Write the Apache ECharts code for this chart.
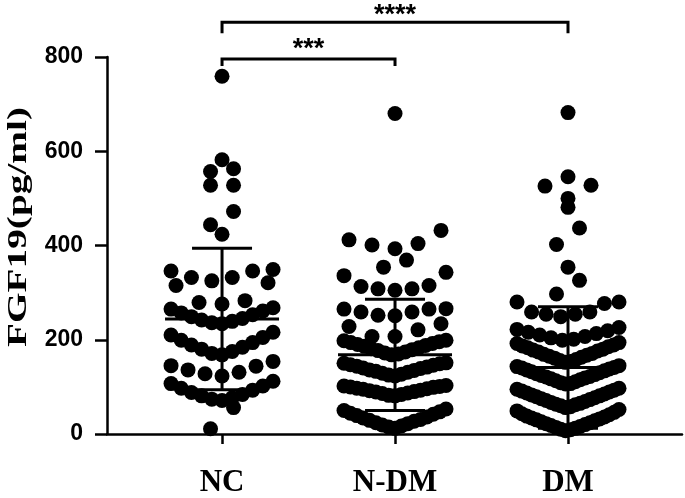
<!DOCTYPE html>
<html>
<head>
<meta charset="utf-8">
<script src="https://cdn.jsdelivr.net/npm/echarts@6/dist/echarts.min.js"></script>
<style>
html,body{margin:0;padding:0;background:#fff;}
#chart{width:685px;height:498px;}
</style>
</head>
<body>
<div id="chart"></div>
<script>
// ---- data ----
const categories = ['NC', 'N-DM', 'DM'];
const yTicks = [0, 200, 400, 600, 800];

const ncValues = [
  11, 56,
  71, 74, 77, 81, 84, 88, 93, 97, 102, 107, 112,
  123, 128, 131, 136, 144, 145, 154,
  168, 171, 175, 180, 184, 189, 194, 199, 205, 210, 216,
  234, 236, 239, 242, 245, 249, 253, 257, 261, 265, 268,
  276, 279, 283, 315, 321,
  325, 332, 332, 346, 346, 349,
  424, 444, 472, 528, 528, 557, 563, 582, 759
];

const ndmValues = [
  12, 15, 17, 19, 22, 24, 27, 29, 31, 34, 36, 39, 42, 44, 47, 50, 53,
  81, 82, 84, 86, 87, 89, 90, 92, 93, 95, 96, 97, 99, 100, 101, 102, 103,
  123, 125, 127, 129, 131, 133, 135, 136, 139, 140, 142, 144, 146, 147, 149, 150, 151,
  168, 170, 172, 174, 177, 179, 181, 183, 186, 188, 190, 192, 194, 196, 198, 199,
  207, 207, 221, 228, 234,
  251, 252, 259, 259, 265, 265, 266,
  305, 308, 308, 313, 315, 336, 343,
  354, 369,
  393, 401, 404, 412, 432,
  680
];

const dmValues = [
  7, 9, 10, 12, 14, 16, 18, 20, 22, 24, 26, 28, 30, 32, 34, 36, 38, 41, 43, 46, 49, 52,
  56, 58, 60, 62, 63, 65, 67, 69, 71, 73, 75, 77, 79, 81, 83, 85, 87, 89, 91, 93, 95, 97,
  106, 107, 109, 111, 113, 115, 117, 119, 121, 122, 124, 126, 128, 130, 132, 134, 136, 138, 140, 141, 143, 145,
  152, 154, 156, 158, 161, 163, 165, 167, 169, 171, 174, 176, 178, 180, 183, 185, 187, 189, 192, 194,
  199, 201, 204, 207, 210, 213, 216, 219, 222, 226,
  249, 254, 254, 259, 259, 277, 280, 280,
  297, 326,
  354,
  402, 437,
  481,
  500, 526, 528,
  546,
  682
];

// mean and SD bars as drawn
const groupMeans = [244, 168, 141];
const groupSDs = [150, 118, 129];

const comparisons = [
  { from: 0, to: 1, label: '***' },
  { from: 0, to: 2, label: '****' }
];

// ---- layout ----
const gridLeft = 107, gridRight = 3, gridTop = 57, gridHeight = 381.5;
const xMin = 0.335, xMax = 3.659;
const pxPerUnit = (685 - gridLeft - gridRight) / (xMax - xMin);
const binOrigins = [10, 8, 6];
const binWidths = [52, 48, 48];
const maxStepPx = 23, maxHalfPx = 51;
const bracketLevels = [796, 874];
const bracketDrops = [7, 11];
const starGaps = [9, 7];

// GraphPad-style scatter: bin the values, spread each bin centre-out, lowest in the middle
function swarm(values, cx, origin, width) {
  const bins = {};
  values.forEach(v => {
    const k = Math.floor((v - origin) / width);
    (bins[k] = bins[k] || []).push(v);
  });
  const pts = [];
  Object.keys(bins).forEach(k => {
    const row = bins[k].slice().sort((a, b) => a - b);
    const n = row.length;
    const half = (n - 1) / 2;
    const step = half > 0 ? Math.min(maxStepPx, maxHalfPx / half) : 0;
    const slots = [];
    for (let i = 0; i < n; i++) slots.push(i - half);
    slots.sort((a, b) => Math.abs(a) - Math.abs(b) || a - b);
    row.forEach((v, i) => pts.push([cx + slots[i] * step / pxPerUnit, v]));
  });
  return pts;
}

const groups = [ncValues, ndmValues, dmValues];

const chart = echarts.init(document.getElementById('chart'), null, { renderer: 'canvas' });

const titleText = 'FGF19(pg/ml)';
const titleFont = 'bold 27px "Liberation Serif"';
const ctx = document.createElement('canvas').getContext('2d');
ctx.font = titleFont;
const titleScale = 240 / ctx.measureText(titleText).width;

const option = {
  animation: false,
  backgroundColor: '#fff',
  grid: { left: gridLeft, right: gridRight, top: gridTop, height: gridHeight },
  xAxis: {
    type: 'value',
    min: xMin,
    max: xMax,
    splitLine: { show: false },
    axisLine: { lineStyle: { color: '#000', width: 2.5 } },
    axisTick: { customValues: [1, 2, 3], length: 10, lineStyle: { color: '#000', width: 2.5 } },
    axisLabel: {
      customValues: [1, 2, 3],
      formatter: v => categories[Math.round(v) - 1],
      color: '#000',
      fontFamily: 'Liberation Serif',
      fontWeight: 'bold',
      fontSize: 31,
      margin: 33
    }
  },
  yAxis: {
    type: 'value',
    min: yTicks[0],
    max: yTicks[yTicks.length - 1],
    interval: 200,
    splitLine: { show: false },
    axisLine: { show: true, lineStyle: { color: '#000', width: 2.5 } },
    axisTick: { show: true, length: 12, lineStyle: { color: '#000', width: 2.5 } },
    axisLabel: {
      color: '#000',
      fontFamily: 'Liberation Sans',
      fontWeight: 'bold',
      fontSize: 23,
      margin: 24
    }
  },
  graphic: [{
    type: 'text',
    x: 19,
    y: 227,
    rotation: Math.PI / 2,
    scaleX: titleScale,
    style: {
      text: titleText,
      font: titleFont,
      fill: '#000',
      align: 'center',
      verticalAlign: 'middle'
    }
  }],
  series: [
    ...groups.map((vals, i) => ({
      type: 'scatter',
      name: categories[i],
      symbol: 'circle',
      symbolSize: 15,
      itemStyle: { color: '#000', opacity: 1 },
      emphasis: { disabled: true },
      data: swarm(vals, i + 1, binOrigins[i], binWidths[i]),
      z: 2
    })),
    {
      type: 'custom',
      name: 'mean-sd',
      z: 3,
      clip: false,
      data: categories.map((c, i) => [i + 1, groupMeans[i], groupSDs[i]]),
      encode: { x: 0, y: 1 },
      renderItem(params, api) {
        const x = api.value(0), m = api.value(1), sd = api.value(2);
        const c = api.coord([x, m]);
        const top = api.coord([x, m + sd]);
        const bot = api.coord([x, m - sd]);
        const st = { stroke: '#000', lineWidth: 3 };
        return {
          type: 'group',
          children: [
            { type: 'line', shape: { x1: c[0] - 57, y1: c[1], x2: c[0] + 57, y2: c[1] }, style: st },
            { type: 'line', shape: { x1: c[0], y1: top[1], x2: c[0], y2: bot[1] }, style: st },
            { type: 'line', shape: { x1: c[0] - 30, y1: top[1], x2: c[0] + 30, y2: top[1] }, style: st },
            { type: 'line', shape: { x1: c[0] - 30, y1: bot[1], x2: c[0] + 30, y2: bot[1] }, style: st }
          ]
        };
      }
    },
    {
      type: 'custom',
      name: 'significance',
      z: 4,
      clip: false,
      data: comparisons.map((c, i) => [c.from + 1, c.to + 1, bracketLevels[i]]),
      encode: { x: [0, 1], y: 2 },
      renderItem(params, api) {
        const i = params.dataIndex;
        const a = api.coord([api.value(0), api.value(2)]);
        const b = api.coord([api.value(1), api.value(2)]);
        const drop = bracketDrops[i];
        return {
          type: 'group',
          children: [
            {
              type: 'polyline',
              shape: { points: [[a[0], a[1] + drop], [a[0], a[1]], [b[0], b[1]], [b[0], b[1] + drop]] },
              style: { stroke: '#000', lineWidth: 3, fill: null }
            },
            {
              type: 'text',
              x: (a[0] + b[0]) / 2,
              y: a[1] - starGaps[i],
              style: {
                text: comparisons[i].label,
                fontFamily: 'Liberation Sans',
                fontWeight: 'bold',
                fontSize: 27,
                fill: '#000',
                align: 'center',
                verticalAlign: 'middle'
              }
            }
          ]
        };
      }
    }
  ]
};

chart.setOption(option);
</script>
</body>
</html>
